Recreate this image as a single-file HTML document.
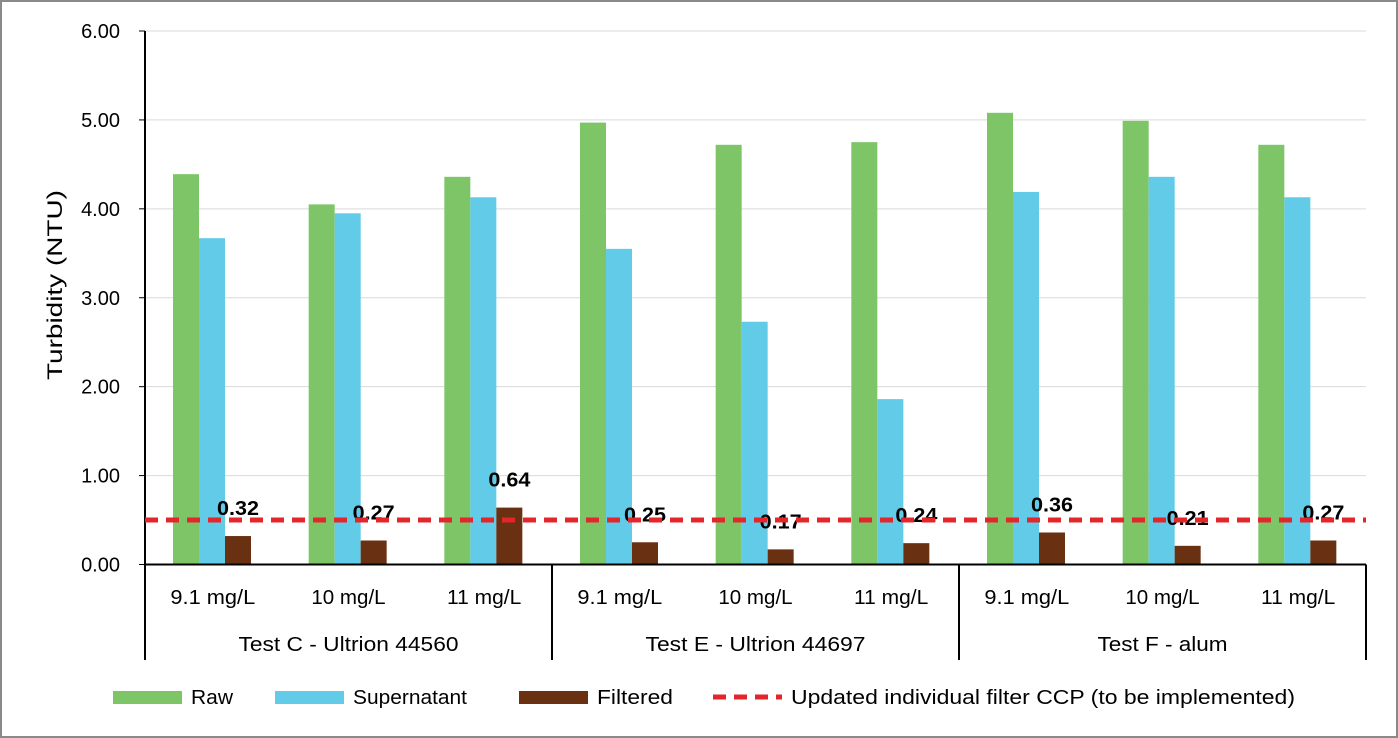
<!DOCTYPE html>
<html><head><meta charset="utf-8"><style>
body{margin:0;background:#fff;}
svg{display:block;font-family:"Liberation Sans",sans-serif;}
</style></head><body>
<svg id="c" width="1398" height="738">
<rect x="1" y="1" width="1396" height="736" fill="#fff" stroke="#8a8a8a" stroke-width="2"/>
<g id="grid"></g><g id="bars"></g><g id="axes"></g><g id="labels"></g>
<text transform="translate(62,285) rotate(-90)" text-anchor="middle" font-size="21" textLength="190" lengthAdjust="spacingAndGlyphs" fill="#000">Turbidity (NTU)</text>
<g id="legend"></g>
</svg>
<script>
const categories=["9.1 mg/L","10 mg/L","11 mg/L","9.1 mg/L","10 mg/L","11 mg/L","9.1 mg/L","10 mg/L","11 mg/L"];
const groups=["Test C - Ultrion 44560","Test E - Ultrion 44697","Test F - alum"];
const raw=[4.39,4.05,4.36,4.97,4.72,4.75,5.08,4.99,4.72];
const supernatant=[3.67,3.95,4.13,3.55,2.73,1.86,4.19,4.36,4.13];
const filtered=[0.32,0.27,0.64,0.25,0.17,0.24,0.36,0.21,0.27];
const yTicks=[0,1,2,3,4,5,6];
const ccp=0.5;

const NS="http://www.w3.org/2000/svg";
const X0=145,X1=1366,Y0=564.5,Ytop=31,YMAX=6;
const cw=(X1-X0)/categories.length;
const y=v=>Y0-(Y0-Ytop)*v/YMAX;
const xc=i=>X0+cw*i;
function el(tag,attrs,parent,txt){const e=document.createElementNS(NS,tag);for(const k in attrs)e.setAttribute(k,attrs[k]);if(txt!=null)e.textContent=txt;document.getElementById(parent).appendChild(e);return e;}
function fit(e,w){e.setAttribute('textLength',w);e.setAttribute('lengthAdjust','spacingAndGlyphs');}

yTicks.forEach(t=>{
  if(t>0){const g=el('line',{x1:X0,x2:X1,y1:y(t),y2:y(t),stroke:'#d9d9d9','stroke-width':1},'grid');
  
  }
  const tk=el('line',{x1:X0-6,x2:X0,y1:y(t),y2:y(t),stroke:'#000'},'axes');
  
  
  const lb=el('text',{x:120,y:y(t)+7,'text-anchor':'end','font-size':20},'axes',t.toFixed(2));
  
  
});
const series=[[raw,'#7dc567','raw'],[supernatant,'#62cbe7','supernatant'],[filtered,'#6a3012','filtered']];
categories.forEach((c,i)=>{
  series.forEach((s,j)=>{
    const v=s[0][i];
    const r=el('rect',{x:xc(i)+28+26*j,y:y(v),width:26,height:Y0-y(v),fill:s[1]},'bars');
    
    
  });
  const t=el('text',{x:xc(i)+28+26*2+13,y:y(filtered[i])-21,'text-anchor':'middle','font-size':20,'font-weight':'bold'},'labels',filtered[i].toFixed(2));
  fit(t,42);
  
  
  const cl=el('text',{x:xc(i)+cw/2,y:604,'text-anchor':'middle','font-size':20},'axes',c);
  fit(cl,c.length*10.6);
  
  
});
groups.forEach((g,k)=>{
  const gl=el('text',{x:X0+cw*3*k+cw*1.5,y:651,'text-anchor':'middle','font-size':20},'axes',g);
  fit(gl,g.length*10);
  
  
});
for(let k=0;k<=3;k++){
  const top=(k==0)?Ytop:Y0;
  const l=el('line',{x1:X0+cw*3*k,x2:X0+cw*3*k,y1:top,y2:660,stroke:'#000','stroke-width':2},'axes');
  
  
}
const xa=el('line',{x1:X0,x2:X1,y1:Y0,y2:Y0,stroke:'#000','stroke-width':2},'axes');


const cl=el('line',{x1:X0,x2:X1,y1:y(ccp),y2:y(ccp),stroke:'#e3262b','stroke-width':5,'stroke-dasharray':'13 8'},'labels');



const leg=[['Raw','#7dc567',113,'rect',42],['Supernatant','#62cbe7',275,'rect',114],['Filtered','#6a3012',519,'rect',76],['Updated individual filter CCP (to be implemented)','#e3262b',713,'line',504]];
leg.forEach(L=>{
  let m;
  if(L[3]=='rect'){m=el('rect',{x:L[2],y:691,width:69,height:13,fill:L[1]},'legend');}
  else{m=el('line',{x1:L[2],x2:L[2]+69,y1:697,y2:697,stroke:L[1],'stroke-width':5,'stroke-dasharray':'13 8'},'legend');}
  
  
  const t=el('text',{x:L[2]+78,y:704,'font-size':20},'legend',L[0]);
  fit(t,L[4]);
  
  
});
</script>
</body></html>
